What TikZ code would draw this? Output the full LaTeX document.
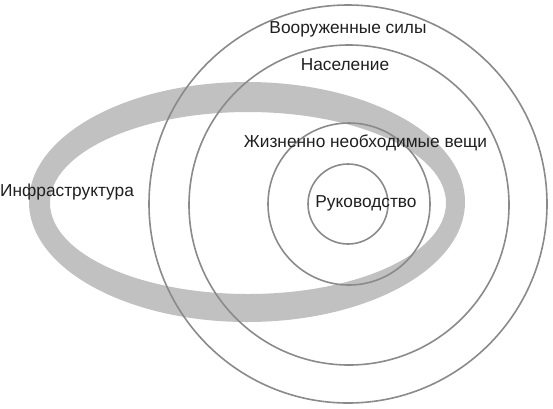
\documentclass[tikz,border=0pt]{standalone}
\usepackage{fontspec}
\setmainfont{Liberation Sans}
\definecolor{ringgray}{RGB}{193,193,193}
\definecolor{circgray}{RGB}{138,138,138}
\tikzset{
  circ/.style={draw=circgray, line width=1.6pt},
  lbl/.style={font=\fontsize{17.3}{20}\selectfont, text=black!88, inner sep=0pt}
}
\begin{document}
\begin{tikzpicture}[x=1pt,y=-1pt]
\useasboundingbox (0,0) rectangle (553,408);
% infrastructure ring
\fill[ringgray, even odd rule] (247,202) ellipse [x radius=218, y radius=120]
                               (248,203) ellipse [x radius=198, y radius=91];
% concentric circles
\draw[circ] (348,204) circle [radius=199];
\draw[circ] (349,205) circle [radius=160];
\draw[circ] (349,204) circle [radius=81];
\draw[circ] (348,204) circle [radius=40];
% labels
\node[lbl] (armed) at (348,29) {Вооруженные силы};
\node[lbl] (pop) at (345,65) {Население};
\node[lbl] (vital) at (365.5,143) {Жизненно необходимые вещи};
\node[lbl] (lead) at (366,203) {Руководство};
\node[lbl, anchor=west] (infra) at (0,192) {Инфраструктура};
\end{tikzpicture}
\end{document}
